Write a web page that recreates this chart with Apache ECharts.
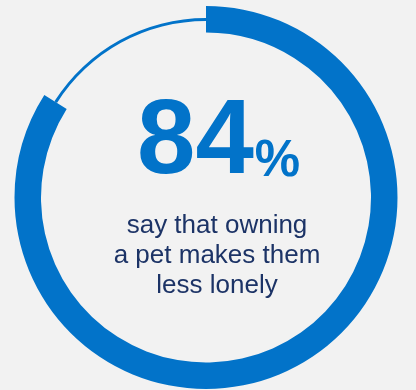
<!DOCTYPE html>
<html>
<head>
<meta charset="utf-8">
<script src="https://cdn.jsdelivr.net/npm/echarts@6/dist/echarts.min.js"></script>
<style>
  html, body { margin: 0; padding: 0; background: #f2f2f2; }
  #chart { width: 416px; height: 390px; }
</style>
</head>
<body>
<div id="chart"></div>
<script>
// Share of respondents, and the caption printed in the middle of the ring
const shareValue = [84];
const captionLines = ['say that owning', 'a pet makes them', 'less lonely'];

const BLUE = '#0273c9';
const NAVY = '#1c3366';
const share = shareValue[0];
const rest = 100 - share;
const center = [206, 197.5];

const chart = echarts.init(document.getElementById('chart'), null, { renderer: 'canvas' });

chart.setOption({
  backgroundColor: '#f2f2f2',
  animation: false,
  series: [
    {
      // thick arc for the share
      type: 'pie',
      center: center,
      radius: [165, 191.5],
      startAngle: 90,
      clockwise: true,
      silent: true,
      label: { show: false },
      labelLine: { show: false },
      data: [
        { value: share, itemStyle: { color: BLUE } },
        { value: rest, itemStyle: { color: 'rgba(0,0,0,0)' } }
      ]
    },
    {
      // thin track for the remainder
      type: 'pie',
      center: center,
      radius: [176.5, 179.5],
      startAngle: 90,
      clockwise: true,
      silent: true,
      label: { show: false },
      labelLine: { show: false },
      data: [
        { value: share, itemStyle: { color: 'rgba(0,0,0,0)' } },
        { value: rest, itemStyle: { color: BLUE } }
      ]
    }
  ],
  graphic: [
    {
      type: 'text',
      left: 137,
      top: 92,
      style: {
        text: '{n|' + share + '}{p|%}',
        rich: {
          n: { fontFamily: 'Liberation Sans, Arial, sans-serif', fontWeight: 'bold', fontSize: 105, fill: BLUE, verticalAlign: 'bottom', lineHeight: 105 },
          p: { fontFamily: 'Liberation Sans, Arial, sans-serif', fontWeight: 'bold', fontSize: 51, fill: BLUE, verticalAlign: 'bottom', lineHeight: 51, padding: [0, 0, 10, 1] }
        }
      }
    },
    {
      type: 'text',
      x: 217,
      y: 211,
      style: {
        text: captionLines.join('\n'),
        fontFamily: 'Liberation Sans, Arial, sans-serif',
        fontSize: 26,
        lineHeight: 30,
        fill: NAVY,
        align: 'center',
        verticalAlign: 'top'
      }
    }
  ]
});
</script>
</body>
</html>
